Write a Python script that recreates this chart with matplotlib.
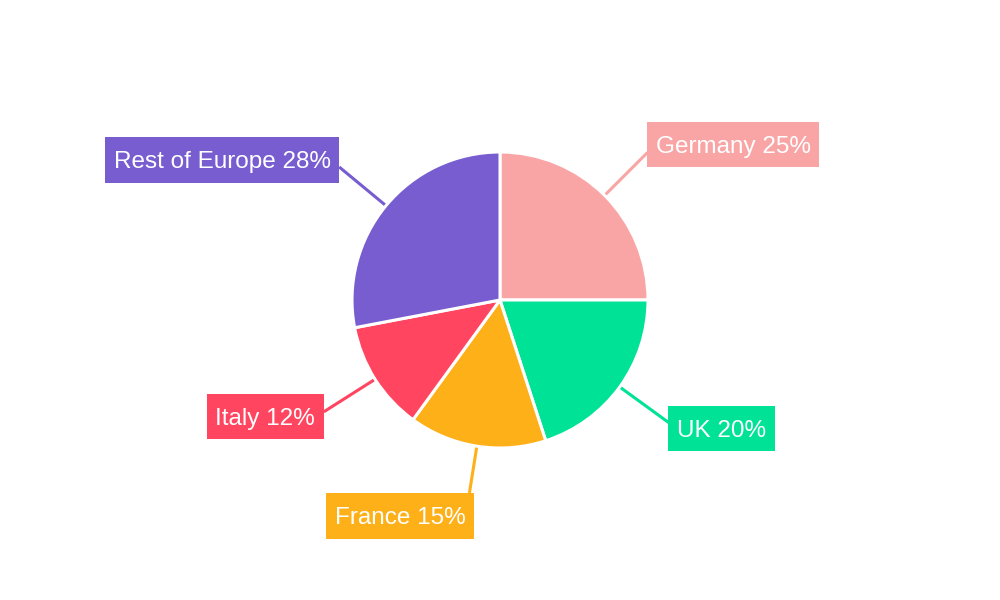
import numpy as np
import matplotlib.pyplot as plt
from matplotlib.patches import Rectangle
from matplotlib.transforms import IdentityTransform

# data
regions = ['Germany', 'UK', 'France', 'Italy', 'Rest of Europe']
shares = [25, 20, 15, 12, 28]
colors = ['#F9A5A6', '#00E396', '#FEB019', '#FF4560', '#775DD0']

# label layout (pixels relative to leader line end)
line_end_r = [1.41, 1.41, 1.32, 1.41, 1.41]
label_dx = [8.0, 8.0, -4.0, -8.6, -8.6]
label_dy = [-5.5, 8.5, 25.5, 7.5, -4.5]
label_ha = ['left', 'left', 'right', 'right', 'right']

plt.rcParams['font.family'] = ['Liberation Sans', 'DejaVu Sans']

fig = plt.figure(figsize=(10, 6), dpi=100)
ax = fig.add_axes([0, 0, 1, 1])
R = 148.0

wedges, _ = ax.pie(shares, colors=colors, startangle=90, counterclock=False,
                   radius=1, wedgeprops=dict(edgecolor='white', linewidth=2.2))
ax.set_xlim(-500 / R, 500 / R)
ax.set_ylim(-300 / R, 300 / R)
ax.set_aspect('equal')
ax.axis('off')

renderer = fig.canvas.get_renderer()
for i, w in enumerate(wedges):
    mid = np.deg2rad((w.theta1 + w.theta2) / 2)
    x0, y0 = 1.01 * np.cos(mid), 1.01 * np.sin(mid)
    x1, y1 = line_end_r[i] * np.cos(mid), line_end_r[i] * np.sin(mid)
    ax.plot([x0, x1], [y0, y1], color=colors[i], lw=2.2, solid_capstyle='butt')
    t = ax.annotate(f'{regions[i]} {shares[i]}%', xy=(x1, y1),
                    xytext=(label_dx[i], -label_dy[i]), textcoords='offset pixels',
                    ha=label_ha[i], va='center', color='white', fontsize=17.5,
                    zorder=5)
    ext = t.get_window_extent(renderer)
    # label box, a bit more room above the text than below
    box = Rectangle((ext.x0 - 8.6, ext.y0 - 9.1), ext.width + 17.2,
                    ext.height + 23.2, transform=IdentityTransform(),
                    fc=colors[i], ec='none', zorder=4)
    ax.add_artist(box)

fig.savefig('out.png', dpi=100)
